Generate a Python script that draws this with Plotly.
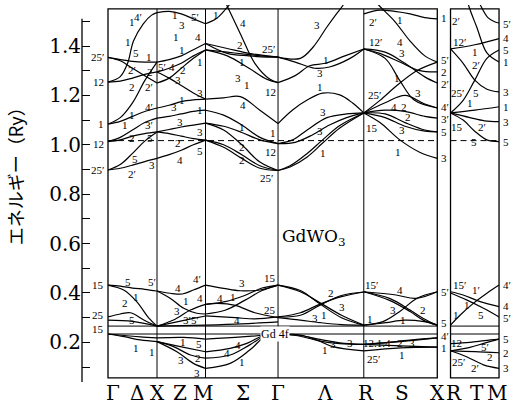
import plotly.graph_objects as go

# ---------------- k-path (path units) ----------------
K_NAMES = ["Γ", "X", "M", "Γ", "R", "X"]
K_POS = [0.0, 1.0, 1.99, 3.47, 5.22, 6.72]
K2_NAMES = ["R", "M"]
K2_POS = [6.99, 7.98]

E_TOP = 1.55
E_BOTTOM = 0.056
E_FERMI = 1.017
GD4F = [0.234, 0.266]

# ---------------- bands: (fraction along segment, energy Ry) ----------------
BANDS_GX = [
    ([0, .25, .5, .75, 1], [1.354, 1.345, 1.338, 1.335, 1.335]),
    ([0, .25, .5, .75, 1], [1.354, 1.34, 1.31, 1.28, 1.25]),
    ([0, .25, .4, .52, .72, .89, 1], [1.254, 1.276, 1.33, 1.42, 1.49, 1.525, 1.535]),
    ([0, .25, .5, .75, 1], [1.254, 1.258, 1.27, 1.285, 1.295]),
    ([0, .25, .5, .75, 1], [1.084, 1.11, 1.17, 1.26, 1.335]),
    ([0, .25, .5, .75, 1], [1.084, 1.095, 1.115, 1.135, 1.149]),
    ([0, .25, .5, .75, 1], [1.013, 1.03, 1.06, 1.09, 1.108]),
    ([0, .25, .5, .75, 1], [1.013, 1.02, 1.035, 1.045, 1.052]),
    ([0, .25, .5, .75, 1], [0.898, 0.92, 0.965, 1.015, 1.052]),
    ([0, .25, .5, .75, 1], [0.898, 0.905, 0.918, 0.932, 0.945]),
    ([0, .25, .5, .75, 1], [0.432, 0.428, 0.42, 0.415, 0.408]),
    ([0, .32, .59, .83, 1], [0.432, 0.412, 0.364, 0.299, 0.266]),
    ([0, .25, .46, .73, 1], [0.303, 0.315, 0.32, 0.291, 0.266]),
    ([0, .5, 1], [0.29, 0.285, 0.266]),
    ([0, .33, .66, 1], [0.234, 0.223, 0.21, 0.203]),
    ([0, .33, .66, 1], [0.234, 0.228, 0.222, 0.218]),
]
BANDS_XM = [
    ([0, .25, .5, .75, 1], [1.535, 1.54, 1.53, 1.51, 1.49]),
    ([0, .25, .5, .75, 1], [1.335, 1.345, 1.36, 1.385, 1.41]),
    ([0, .25, .5, .75, 1], [1.295, 1.31, 1.33, 1.36, 1.384]),
    ([0, .25, .5, .75, 1], [1.25, 1.27, 1.31, 1.35, 1.384]),
    ([0, .25, .5, .75, 1], [1.295, 1.27, 1.24, 1.21, 1.185]),
    ([0, .25, .5, .75, 1], [1.149, 1.16, 1.175, 1.182, 1.185]),
    ([0, .25, .5, .75, 1], [1.108, 1.115, 1.125, 1.135, 1.14]),
    ([0, .25, .5, .75, 1], [1.052, 1.062, 1.072, 1.08, 1.088]),
    ([0, .25, .5, .75, 1], [1.052, 1.045, 1.035, 1.025, 1.019]),
    ([0, .25, .5, .75, 1], [0.945, 0.96, 0.978, 1.0, 1.019]),
    ([0, .27, .52, .75, 1], [0.408, 0.399, 0.396, 0.412, 0.432]),
    ([0, .27, .55, .82, 1], [0.408, 0.379, 0.338, 0.318, 0.315]),
    ([0, .34, .69, 1], [0.266, 0.291, 0.331, 0.354]),
    ([0, .41, .75, 1], [0.266, 0.283, 0.297, 0.307]),
    ([0, .5, 1], [0.266, 0.268, 0.27]),
    ([0, .48, 1], [0.203, 0.183, 0.162]),
    ([0, .34, .69, 1], [0.203, 0.183, 0.149, 0.136]),
    ([0, .41, .75, 1], [0.203, 0.162, 0.115, 0.095]),
    ([0, .55, 1], [0.218, 0.22, 0.213]),
]
BANDS_MG = [
    ([0, .145, .28, .42], [1.49, 1.51, 1.55, 1.60]),
    ([.27, .48, .68, .89, 1], [1.58, 1.45, 1.33, 1.265, 1.252]),
    ([0, .3, .6, .85, 1], [1.41, 1.37, 1.36, 1.355, 1.355]),
    ([0, .3, .6, .85, 1], [1.384, 1.375, 1.365, 1.358, 1.355]),
    ([0, .3, .6, .85, 1], [1.384, 1.36, 1.31, 1.265, 1.252]),
    ([0, .3, .6, .85, 1], [1.41, 1.39, 1.37, 1.36, 1.355]),
    ([0, .25, .48, .75, 1], [1.185, 1.19, 1.195, 1.14, 1.086]),
    ([0, .25, .5, .75, 1], [1.14, 1.12, 1.08, 1.03, 1.005]),
    ([0, .25, .5, .75, 1], [1.088, 1.075, 1.05, 1.02, 1.005]),
    ([0, .25, .5, .75, 1], [1.019, 1.0, 0.96, 0.915, 0.896]),
    ([0, .25, .5, .75, 1], [1.019, 0.99, 0.945, 0.905, 0.896]),
    ([0, .25, .5, .75, 1], [1.088, 1.06, 1.0, 0.93, 0.896]),
    ([0, .25, .48, .75, 1], [0.432, 0.419, 0.409, 0.412, 0.432]),
    ([0, .17, .41, .68, 1], [0.354, 0.358, 0.35, 0.32, 0.30]),
    ([0, .27, .54, .78, 1], [0.315, 0.33, 0.37, 0.41, 0.432]),
    ([0, .41, .68, 1], [0.307, 0.30, 0.295, 0.303]),
    ([0, .27, .54, .78, 1], [0.354, 0.365, 0.39, 0.42, 0.432]),
    ([0, .5, 1], [0.27, 0.275, 0.283]),
    ([0, .34, .57, .8, 1], [0.162, 0.176, 0.196, 0.228, 0.234]),
    ([0, .34, .61, .84, 1], [0.136, 0.149, 0.19, 0.23, 0.234]),
    ([0, .34, .61, .84, 1], [0.095, 0.115, 0.169, 0.228, 0.234]),
    ([0, .5, 1], [0.213, 0.222, 0.234]),
]
BANDS_GR = [
    ([0, .26, .41, .57, .69, .76, .85], [1.355, 1.35, 1.396, 1.477, 1.534, 1.566, 1.62]),
    ([0, .2, .43, .6, .84, 1], [1.355, 1.335, 1.31, 1.315, 1.35, 1.388]),
    ([0, .2, .37, .55, .78, 1], [1.252, 1.28, 1.32, 1.33, 1.36, 1.388]),
    ([0, .17, .34, .52, .72, .87, 1], [1.086, 1.141, 1.181, 1.209, 1.202, 1.169, 1.129]),
    ([0, .17, .34, .57, .8, 1], [1.005, 1.02, 1.06, 1.11, 1.125, 1.129]),
    ([0, .14, .34, .52, .72, 1], [0.896, 0.91, 0.951, 1.007, 1.068, 1.129]),
    ([0, .14, .34, .52, .72, 1], [0.896, 0.915, 0.965, 1.02, 1.078, 1.129]),
    ([0, .2, .4, .6, .8, 1], [1.005, 1.01, 1.04, 1.08, 1.11, 1.129]),
    ([0, .26, .49, .74, 1], [0.432, 0.405, 0.36, 0.31, 0.27]),
    ([0, .26, .49, .74, 1], [0.432, 0.41, 0.355, 0.30, 0.27]),
    ([0, .26, .49, .74, 1], [0.303, 0.31, 0.351, 0.39, 0.404]),
    ([0, .26, .49, .74, 1], [0.303, 0.32, 0.355, 0.385, 0.404]),
    ([0, .26, .49, .74, 1], [0.30, 0.29, 0.28, 0.272, 0.27]),
    ([0, .26, .49, .72, 1], [0.234, 0.225, 0.205, 0.195, 0.192]),
    ([0, .26, .49, .72, 1], [0.234, 0.228, 0.212, 0.198, 0.192]),
    ([0, .26, .45, .64, 1], [0.234, 0.23, 0.21, 0.183, 0.166]),
]
BANDS_RX = [
    ([0, .22, .42, .63, .83, 1], [1.53, 1.545, 1.54, 1.53, 1.515, 1.51]),
    ([.12, .19, .42, .63, .83, 1], [1.6, 1.57, 1.5, 1.42, 1.36, 1.335]),
    ([0, .22, .49, .76, 1], [1.388, 1.37, 1.335, 1.30, 1.295]),
    ([0, .29, .49, .69, 1], [1.388, 1.35, 1.26, 1.18, 1.149]),
    ([0, .29, .56, .83, 1], [1.388, 1.375, 1.33, 1.275, 1.25]),
    ([0, .22, .45, .72, 1], [1.129, 1.18, 1.24, 1.3, 1.335]),
    ([0, .29, .56, .83, 1], [1.129, 1.17, 1.2, 1.165, 1.149]),
    ([0, .29, .56, .83, 1], [1.129, 1.14, 1.135, 1.115, 1.108]),
    ([0, .29, .56, .83, 1], [1.129, 1.11, 1.075, 1.055, 1.052]),
    ([0, .22, .49, .76, 1], [1.129, 1.09, 1.02, 0.97, 0.945]),
    ([0, .29, .56, .83, 1], [1.129, 1.125, 1.09, 1.06, 1.052]),
    ([0, .44, .71, 1], [0.405, 0.392, 0.378, 0.405]),
    ([0, .35, .63, .81, 1], [0.405, 0.378, 0.331, 0.297, 0.27]),
    ([0, .35, .63, .81, 1], [0.405, 0.37, 0.325, 0.29, 0.27]),
    ([0, .26, .49, .72, 1], [0.27, 0.284, 0.325, 0.378, 0.405]),
    ([0, .3, .55, .8, 1], [0.27, 0.28, 0.29, 0.285, 0.27]),
    ([0, .5, 1], [0.192, 0.203, 0.218]),
    ([0, .33, .66, 1], [0.192, 0.2, 0.21, 0.218]),
    ([0, .5, 1], [0.166, 0.178, 0.181]),
    ([0, .5, 1], [0.192, 0.186, 0.181]),
]
BANDS_RM = [
    ([.3, .38, .54, .75, 1], [1.62, 1.56, 1.477, 1.372, 1.335]),
    ([.55, .63, .77, .92, 1], [1.6, 1.56, 1.515, 1.497, 1.493]),
    ([0, .5, 1], [1.388, 1.405, 1.43]),
    ([0, .26, .5, .75, 1], [1.388, 1.33, 1.262, 1.225, 1.214]),
    ([0, .26, .5, .75, 1], [1.129, 1.18, 1.262, 1.35, 1.384]),
    ([0, .5, 1], [1.129, 1.14, 1.154]),
    ([0, .4, .7, 1], [1.129, 1.11, 1.097, 1.094]),
    ([0, .26, .5, .75, 1], [1.129, 1.10, 1.055, 1.02, 1.013]),
    ([0, .26, .61, 1], [0.405, 0.392, 0.365, 0.345]),
    ([0, .33, .68, 1], [0.40, 0.372, 0.338, 0.303]),
    ([0, .2, .47, .75, 1], [0.27, 0.311, 0.358, 0.399, 0.432]),
    ([0, .4, .7, 1], [0.195, 0.2, 0.207, 0.213]),
    ([0, .4, .7, 1], [0.166, 0.18, 0.197, 0.213]),
    ([0, .5, 1], [0.166, 0.163, 0.158]),
    ([0, .33, .68, 1], [0.166, 0.142, 0.109, 0.095]),
]
SEGMENTS = [
    (K_POS[0], K_POS[1], BANDS_GX),
    (K_POS[1], K_POS[2], BANDS_XM),
    (K_POS[2], K_POS[3], BANDS_MG),
    (K_POS[3], K_POS[4], BANDS_GR),
    (K_POS[4], K_POS[5], BANDS_RX),
    (K2_POS[0], K2_POS[1], BANDS_RM),
]

# ---------------- labels ----------------
BOTTOM_LABELS = ["Γ", "Δ", "X", "Z", "M", "Σ", "Γ", "Λ", "R", "S", "X", "R", "T", "M"]
BOTTOM_POS = [0.10, 0.59, 1.02, 1.47, 1.94, 2.76, 3.47, 4.43, 5.27, 6.0, 6.73, 7.06, 7.53, 7.94]

LEFT_LABELS = ["25′", "12", "1", "12", "25′", "15", "25", "15"]
LEFT_E = [1.355, 1.254, 1.084, 1.005, 0.898, 0.432, 0.311, 0.254]

XR_LABELS = ["4′", "1", "5′", "2", "2′", "4′", "3′", "5", "3", "5′", "5", "4′", "1"]
XR_E = [1.57, 1.512, 1.342, 1.294, 1.246, 1.152, 1.105, 1.053, 0.945, 0.405, 0.277, 0.225, 0.176]

MR_LABELS = ["5′", "4", "5", "1", "3", "1", "3", "5", "4′", "4", "5′", "5", "2", "3"]
MR_E = [1.489, 1.433, 1.384, 1.336, 1.215, 1.154, 1.094, 1.013, 0.432, 0.348, 0.300, 0.213, 0.156, 0.095]

INNER_LABELS = [
    ("1", 0.48, 1.498), ("4′", 0.62, 1.519), ("1", 0.41, 1.417), ("5", 0.57, 1.372),
    ("1", 0.84, 1.357), ("2′", 0.48, 1.303), ("2", 0.86, 1.296), ("2", 0.48, 1.233),
    ("2′", 0.84, 1.233), ("4′", 0.84, 1.154), ("1", 0.48, 1.121), ("1", 0.35, 1.08),
    ("3′", 0.84, 1.08), ("2", 0.48, 1.026), ("5", 0.86, 1.026), ("5", 0.55, 0.941),
    ("2′", 0.48, 0.882), ("3", 0.89, 0.918),
    ("1", 1.37, 1.526), ("5′", 1.78, 1.519), ("3", 1.5, 1.485), ("1", 1.39, 1.438),
    ("4", 1.84, 1.438), ("1", 1.5, 1.384), ("5′", 1.1, 1.316), ("4", 1.3, 1.316),
    ("2", 1.54, 1.303), ("1", 1.88, 1.336), ("3", 1.43, 1.262), ("3", 1.88, 1.208),
    ("1", 1.52, 1.181), ("3", 1.35, 1.154), ("1", 1.88, 1.141), ("3", 1.47, 1.094),
    ("3", 1.88, 1.053), ("2", 1.43, 1.009), ("5", 1.88, 0.976), ("4", 1.47, 0.938),
    ("1", 2.2, 1.526), ("4", 2.76, 1.492), ("2", 2.69, 1.404), ("1", 2.73, 1.336),
    ("3", 2.66, 1.269), ("1", 2.83, 1.242), ("4", 2.76, 1.161), ("1", 2.73, 1.073),
    ("2", 2.73, 0.992), ("2", 2.73, 0.938),
    ("25′", 3.27, 1.387), ("12", 3.31, 1.215), ("1", 3.36, 1.047), ("12", 3.31, 0.972),
    ("25′", 3.24, 0.864),
    ("3", 4.27, 1.485), ("1", 4.45, 1.343), ("3", 4.33, 1.292), ("1", 4.33, 1.233),
    ("3", 4.39, 1.134), ("3", 4.33, 1.057), ("1", 4.39, 0.966),
    ("2′", 5.4, 1.498), ("12′", 5.45, 1.417), ("25′", 5.44, 1.202), ("15", 5.38, 1.067),
    ("1", 5.96, 1.505), ("4", 5.96, 1.417), ("3", 5.99, 1.37), ("1", 5.9, 1.269),
    ("3", 6.33, 1.208), ("4", 5.84, 1.154), ("2", 6.04, 1.154), ("2", 6.13, 1.111),
    ("3", 5.99, 1.06), ("1", 5.92, 0.972),
    ("2′", 7.1, 1.502), ("12′", 7.18, 1.417), ("1", 7.49, 1.377), ("2′", 7.52, 1.323),
    ("25′", 7.13, 1.208), ("5", 7.52, 1.208), ("1", 7.39, 1.168), ("15", 7.13, 1.073),
    ("2′", 7.63, 1.073), ("5", 7.46, 1.013),
    ("5", 0.41, 0.446), ("5′", 0.89, 0.446), ("1", 0.57, 0.383), ("2", 0.35, 0.358),
    ("5", 0.48, 0.291), ("4", 1.43, 0.419), ("4′", 1.82, 0.455), ("1", 1.59, 0.369),
    ("3", 1.41, 0.328), ("4", 1.88, 0.379), ("3′", 1.61, 0.291), ("5′", 1.78, 0.291),
    ("4", 2.29, 0.379), ("1", 2.56, 0.383), ("3", 2.73, 0.442), ("15", 3.31, 0.46),
    ("25", 3.31, 0.331), ("4", 2.63, 0.289),
    ("1", 0.58, 0.176), ("1", 0.89, 0.162), ("1", 1.54, 0.203), ("5", 1.86, 0.194),
    ("3", 1.48, 0.129), ("2", 1.84, 0.136), ("3", 1.81, 0.075), ("4", 2.66, 0.189),
    ("4", 2.42, 0.156), ("1", 2.73, 0.122),
    ("2", 4.56, 0.399), ("3", 4.22, 0.298), ("1", 4.41, 0.311), ("3", 4.77, 0.345),
    ("15′", 5.38, 0.432), ("1", 5.35, 0.295), ("4", 5.96, 0.412), ("3", 5.82, 0.331),
    ("1", 6.03, 0.291), ("2", 6.42, 0.331),
    ("15′", 7.18, 0.432), ("1′", 7.52, 0.412), ("1", 7.1, 0.311), ("1", 7.32, 0.351),
    ("5", 7.61, 0.311),
    ("1", 4.43, 0.169), ("3", 4.6, 0.194), ("3", 4.94, 0.196), ("12.1.4", 5.48, 0.196),
    ("2", 5.96, 0.196), ("3", 6.2, 0.196), ("25′", 5.41, 0.133), ("1", 5.99, 0.149),
    ("12", 7.12, 0.196), ("25′", 7.15, 0.122), ("5′", 7.69, 0.18), ("2", 7.8, 0.14),
    ("2′", 7.49, 0.095),
]

Y_TICKS = [0.2, 0.4, 0.6, 0.8, 1.0, 1.2, 1.4]
Y_MINOR = [0.1, 0.3, 0.5, 0.7, 0.9, 1.1, 1.3, 1.5]

# ---------------- figure ----------------
fig = go.Figure()
LINE = dict(color="black", width=1.2, shape="spline", smoothing=1.0)
for k0, k1, bands in SEGMENTS:
    for ts, es in bands:
        fig.add_trace(go.Scatter(
            x=[k0 + t * (k1 - k0) for t in ts], y=es, mode="lines",
            line=LINE, showlegend=False, hoverinfo="skip"))

shapes = []
for xa, xb in [(K_POS[0], K_POS[-1]), (K2_POS[0], K2_POS[1])]:
    shapes.append(dict(type="rect", xref="x", yref="y", x0=xa, x1=xb, y0=E_BOTTOM, y1=E_TOP,
                       line=dict(color="black", width=1.3)))
    shapes.append(dict(type="line", xref="x", yref="y", x0=xa, x1=xb, y0=E_FERMI, y1=E_FERMI,
                       line=dict(color="black", width=1, dash="6px,4px")))
    for g in GD4F:
        shapes.append(dict(type="line", xref="x", yref="y", x0=xa, x1=xb, y0=g, y1=g,
                           line=dict(color="black", width=1)))
for kp in K_POS[1:-1]:
    shapes.append(dict(type="line", xref="x", yref="y", x0=kp, x1=kp, y0=E_BOTTOM, y1=E_TOP,
                       line=dict(color="black", width=1)))
shapes.append(dict(type="line", xref="paper", yref="y", x0=0, x1=0, y0=0.04, y1=1.51,
                   line=dict(color="black", width=1.3)))

ann = []
LBL_FONT = dict(family="Liberation Serif", size=11, color="black")
for txt, e in zip(LEFT_LABELS, LEFT_E):
    ann.append(dict(x=K_POS[0] - 0.04, y=e, text=txt, xanchor="right", yanchor="middle",
                    showarrow=False, font=LBL_FONT))
for txt, e in zip(XR_LABELS, XR_E):
    ann.append(dict(x=K_POS[-1] + 0.03, y=e, text=txt, xanchor="left", yanchor="middle",
                    showarrow=False, font=LBL_FONT))
for txt, e in zip(MR_LABELS, MR_E):
    ann.append(dict(x=K2_POS[1] + 0.03, y=e, text=txt, xanchor="left", yanchor="middle",
                    showarrow=False, font=LBL_FONT))
for txt, k, e in INNER_LABELS:
    ann.append(dict(x=k, y=e, text=txt, xanchor="center", yanchor="middle",
                    showarrow=False, font=LBL_FONT))
for txt, k in zip(BOTTOM_LABELS, BOTTOM_POS):
    ann.append(dict(x=k, xref="x", y=-0.021, yref="paper", text=txt, xanchor="center",
                    yanchor="middle", showarrow=False,
                    font=dict(family="DejaVu Serif", size=20, color="black")))
ann.append(dict(x=4.2, y=0.623, text="GdWO<sub>3</sub>", showarrow=False,
                font=dict(family="DejaVu Serif", size=17, color="black")))
ann.append(dict(x=3.41, y=GD4F[0], text="Gd 4f", showarrow=False, bgcolor="white",
                font=dict(family="Liberation Serif", size=12, color="black"), borderpad=0))
ann.append(dict(x=-0.155, xref="paper", y=0.89, yref="y", text="エネルギー（Ry）",
                textangle=-90, showarrow=False, xanchor="center", yanchor="middle",
                font=dict(family="Noto Sans CJK JP", size=18, color="black")))

fig.update_layout(
    width=523, height=407,
    margin=dict(l=82, r=10, t=5, b=22),
    paper_bgcolor="white", plot_bgcolor="white",
    shapes=shapes, annotations=ann, showlegend=False,
    xaxis=dict(range=[-0.5306, 8.265], visible=False),
    yaxis=dict(range=[0.0275, 1.566], showgrid=False, zeroline=False, showline=False,
               tickvals=Y_TICKS, ticktext=[f"{v:.1f}" for v in Y_TICKS],
               ticks="inside", ticklen=8, tickwidth=1.2, tickcolor="black",
               tickfont=dict(family="DejaVu Serif", size=20, color="black"),
               minor=dict(tickvals=Y_MINOR, ticks="inside", ticklen=8, tickwidth=1.2,
                          tickcolor="black")),
)
fig.write_html("out.html")
